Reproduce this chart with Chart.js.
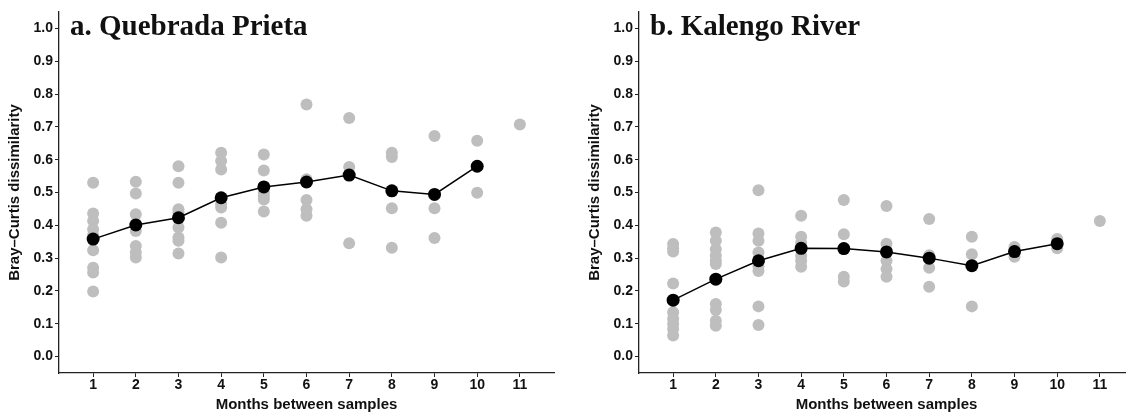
<!DOCTYPE html>
<html>
<head>
<meta charset="utf-8">
<script src="https://cdn.jsdelivr.net/npm/chart.js@4.4.1/dist/chart.umd.min.js"></script>
<style>
  html, body { margin: 0; padding: 0; background: #fff; overflow: hidden; width: 1126px; height: 414px; }
  .panel { position: absolute; top: 0; width: 580px; height: 414px; }
  #pa { left: 0; }
  #pb { left: 580px; }
</style>
</head>
<body>
<div class="panel" id="pa"><canvas id="ca" width="580" height="414"></canvas></div>
<div class="panel" id="pb"><canvas id="cb" width="580" height="414"></canvas></div>
<script>
// ---- data ----
const months = [1, 2, 3, 4, 5, 6, 7, 8, 9, 10, 11];
const yTicks = [0, 0.1, 0.2, 0.3, 0.4, 0.5, 0.6, 0.7, 0.8, 0.9, 1.0];

// Quebrada Prieta: pairwise dissimilarities per month lag
const qpPairs = [
  [0.530, 0.436, 0.413, 0.388, 0.370, 0.324, 0.271, 0.256, 0.198],
  [0.533, 0.497, 0.434, 0.405, 0.383, 0.337, 0.317, 0.302],
  [0.580, 0.530, 0.449, 0.439, 0.393, 0.363, 0.353, 0.314],
  [0.621, 0.596, 0.570, 0.465, 0.454, 0.408, 0.302],
  [0.616, 0.567, 0.500, 0.489, 0.479, 0.442],
  [0.768, 0.540, 0.477, 0.449, 0.429],
  [0.727, 0.578, 0.345],
  [0.621, 0.608, 0.452, 0.332],
  [0.672, 0.452, 0.361],
  [0.658, 0.499],
  [0.707]
];
const qpMean = [0.358, 0.401, 0.423, 0.484, 0.517, 0.532, 0.553, 0.505, 0.494, 0.580];

// Kalengo River
const krPairs = [
  [0.343, 0.330, 0.320, 0.223, 0.135, 0.115, 0.099, 0.084, 0.064],
  [0.378, 0.353, 0.327, 0.307, 0.292, 0.282, 0.160, 0.142, 0.109, 0.094],
  [0.507, 0.375, 0.353, 0.317, 0.275, 0.261, 0.153, 0.096],
  [0.429, 0.365, 0.347, 0.307, 0.292, 0.274],
  [0.477, 0.373, 0.243, 0.229],
  [0.459, 0.344, 0.292, 0.267, 0.243],
  [0.419, 0.309, 0.271, 0.213],
  [0.365, 0.312, 0.153],
  [0.334, 0.304],
  [0.358, 0.330],
  [0.413]
];
const krMean = [0.172, 0.236, 0.292, 0.330, 0.329, 0.319, 0.300, 0.277, 0.320, 0.344];

const titleA = 'a. Quebrada Prieta';
const titleB = 'b. Kalengo River';
const yLabel = 'Bray\u2013Curtis dissimilarity';
const xLabel = 'Months between samples';

// ---- chart ----
const AXIS = '#222';
const tickFont = { family: '"Liberation Sans", Arial, sans-serif', size: 14, weight: 'bold' };
const titleFont = { family: '"Liberation Sans", Arial, sans-serif', size: 15, weight: 'bold' };

const panelTitle = {
  id: 'panelTitle',
  afterDraw(chart, args, opts) {
    const { ctx, chartArea } = chart;
    ctx.save();
    ctx.font = 'bold 29px "Liberation Serif", "Times New Roman", serif';
    ctx.fillStyle = '#111';
    ctx.textBaseline = 'alphabetic';
    ctx.textAlign = 'left';
    ctx.fillText(opts.text, chartArea.left + 11, 35);
    ctx.restore();
  }
};

function build(canvasId, pairs, means, title) {
  const grey = [];
  pairs.forEach((vals, i) => vals.forEach(v => grey.push({ x: months[i], y: v })));
  const meanPts = means.map((v, i) => ({ x: months[i], y: v }));
  return new Chart(document.getElementById(canvasId), {
    type: 'scatter',
    data: {
      datasets: [
        {
          label: 'mean', data: meanPts, showLine: true,
          borderColor: '#000', borderWidth: 1.5,
          pointRadius: 6.5, pointHoverRadius: 6.5,
          pointBackgroundColor: '#000', pointBorderWidth: 0
        },
        {
          label: 'pairs', data: grey,
          pointRadius: 6, pointHoverRadius: 6,
          pointBackgroundColor: '#bebebe', pointBorderWidth: 0, borderColor: '#bebebe'
        }
      ]
    },
    options: {
      responsive: false, animation: false,
      events: [],
      layout: { padding: { top: 12, right: 26, bottom: 0, left: 0 } },
      plugins: { legend: { display: false }, tooltip: { enabled: false }, panelTitle: { text: title } },
      scales: {
        x: {
          type: 'linear', min: 0.2, max: 11.8,
          afterBuildTicks: s => { s.ticks = months.map(v => ({ value: v })); },
          afterFit: s => { s.height = 41; },
          grid: { drawOnChartArea: false, drawTicks: true, tickLength: 4, tickColor: AXIS, tickWidth: 1 },
          border: { display: true, color: AXIS, width: 1.3 },
          ticks: { color: '#111', font: tickFont, padding: 0, maxRotation: 0, autoSkip: false,
                   callback: v => String(v) },
          title: { display: true, text: xLabel, color: '#111', font: titleFont, padding: { top: 0, bottom: 0 } }
        },
        y: {
          type: 'linear', min: -0.05, max: 1.05,
          afterBuildTicks: s => { s.ticks = yTicks.map(v => ({ value: v })); },
          afterFit: s => { s.width = 59; },
          grid: { drawOnChartArea: false, drawTicks: true, tickLength: 4, tickColor: AXIS, tickWidth: 1 },
          border: { display: true, color: AXIS, width: 1.3 },
          ticks: { color: '#111', font: tickFont, padding: 2, autoSkip: false,
                   callback: v => v.toFixed(1) },
          title: { display: true, text: yLabel, color: '#111', font: titleFont, padding: { top: 6, bottom: 0 } }
        }
      }
    },
    plugins: [panelTitle]
  });
}

build('ca', qpPairs, qpMean, titleA);
build('cb', krPairs, krMean, titleB);
</script>
</body>
</html>
